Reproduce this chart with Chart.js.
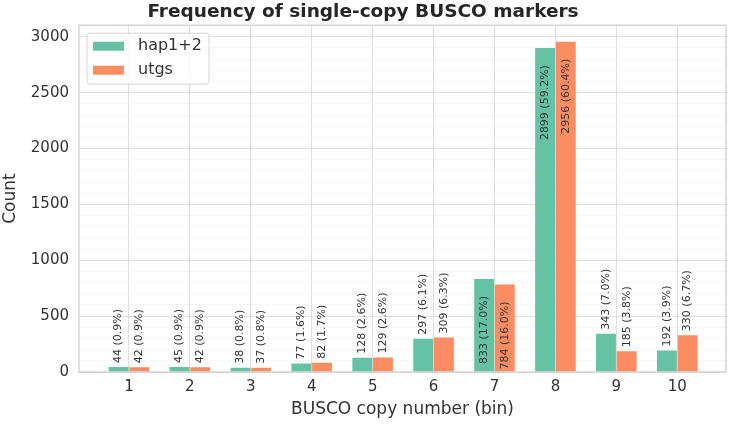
<!DOCTYPE html>
<html>
<head>
<meta charset="utf-8">
<script src="https://cdn.jsdelivr.net/npm/chart.js@4.4.0/dist/chart.umd.min.js"></script>
<style>
  html, body { margin: 0; padding: 0; background: #fff; }
  #wrap { width: 733px; height: 427px; }
</style>
</head>
<body>
<div id="wrap"><canvas id="busco-chart" width="733" height="427"></canvas></div>
<script>
const copyBins = [1, 2, 3, 4, 5, 6, 7, 8, 9, 10];
const hapCounts = [44, 45, 38, 77, 128, 297, 833, 2899, 343, 192];
const utgCounts = [42, 42, 37, 82, 129, 309, 784, 2956, 185, 330];
const seriesNames = ['hap1+2', 'utgs'];
const yTickLabels = [0, 500, 1000, 1500, 2000, 2500, 3000];

const GREEN = '#66c2a5';
const ORANGE = '#fc8d62';
const TEXT = '#333333';
const FONT = "'DejaVu Sans', sans-serif";

const toPoints = vals => vals.map((v, i) => ({ x: copyBins[i], y: v }));

// rotated value labels, above short bars, inside tall ones
const barLabels = {
  id: 'barLabels',
  afterDatasetsDraw(chart) {
    const ctx = chart.ctx;
    const yMax = chart.scales.y.max;
    ctx.save();
    ctx.font = `11px ${FONT}`;
    ctx.fillStyle = TEXT;
    ctx.textBaseline = 'middle';
    chart.data.datasets.forEach((ds, di) => {
      const meta = chart.getDatasetMeta(di);
      const total = ds.data.reduce((a, p) => a + p.y, 0);
      meta.data.forEach((bar, i) => {
        const v = ds.data[i].y;
        const txt = `${v} (${(v / total * 100).toFixed(1)}%)`;
        const inside = v > yMax * 0.2;
        ctx.save();
        ctx.translate(bar.x, inside ? bar.y + 17 : bar.y - 4);
        ctx.rotate(-Math.PI / 2);
        ctx.textAlign = inside ? 'right' : 'left';
        ctx.fillText(txt, 0, 0);
        ctx.restore();
      });
    });
    ctx.restore();
  }
};

// plot frame and legend box in the upper left corner
const frameLegend = {
  id: 'frameLegend',
  afterDraw(chart) {
    const ctx = chart.ctx;
    const a = chart.chartArea;
    ctx.save();
    ctx.strokeStyle = '#cccccc';
    ctx.lineWidth = 1.2;
    ctx.strokeRect(a.left, a.top, a.right - a.left, a.bottom - a.top);

    const x = a.left + 8, y = a.top + 8, w = 122, h = 51;
    ctx.beginPath();
    ctx.roundRect(x, y, w, h, 3);
    ctx.fillStyle = 'rgba(255,255,255,0.85)';
    ctx.fill();
    ctx.strokeStyle = '#d6d6d6';
    ctx.lineWidth = 1;
    ctx.stroke();

    ctx.font = `16px ${FONT}`;
    ctx.textBaseline = 'middle';
    ctx.textAlign = 'left';
    chart.data.datasets.forEach((ds, i) => {
      const cy = y + 13 + i * 24;
      ctx.fillStyle = ds.backgroundColor;
      ctx.fillRect(x + 6, cy - 4.5, 31, 9);
      ctx.fillStyle = TEXT;
      ctx.fillText(ds.label, x + 51, cy);
    });
    ctx.restore();
  }
};

new Chart(document.getElementById('busco-chart'), {
  type: 'bar',
  data: {
    datasets: [
      { label: seriesNames[0], data: toPoints(hapCounts), backgroundColor: GREEN },
      { label: seriesNames[1], data: toPoints(utgCounts), backgroundColor: ORANGE }
    ]
  },
  options: {
    responsive: false,
    animation: false,
    layout: { padding: { left: 0, right: 7, top: 0, bottom: 0 } },
    datasets: { bar: { categoryPercentage: 0.68, barPercentage: 0.96 } },
    plugins: {
      legend: { display: false },
      tooltip: { enabled: false },
      title: {
        display: true,
        text: 'Frequency of single-copy BUSCO markers',
        color: '#262626',
        font: { family: FONT, size: 18.5, weight: 'bold' },
        padding: { top: 1, bottom: 2 }
      }
    },
    scales: {
      x: {
        type: 'linear',
        offset: false,
        min: 0.18,
        max: 10.8,
        afterBuildTicks: s => { s.ticks = copyBins.map(v => ({ value: v })); },
        afterFit: s => { s.height = 55; },
        ticks: { color: TEXT, font: { family: FONT, size: 15 }, padding: 6 },
        grid: { color: '#dedede', lineWidth: 1, drawTicks: false, offset: false },
        border: { display: false },
        title: {
          display: true,
          text: 'BUSCO copy number (bin)',
          color: TEXT,
          font: { family: FONT, size: 17 },
          padding: { top: 0, bottom: 7 }
        }
      },
      y: {
        min: 0,
        max: 3104,
        afterBuildTicks: s => {
          const t = [];
          for (let v = 0; v <= s.max; v += 100) t.push({ value: v });
          s.ticks = t;
        },
        afterFit: s => { s.width = 79; },
        ticks: {
          color: TEXT,
          font: { family: FONT, size: 15 },
          padding: 10,
          autoSkip: false,
          callback: v => yTickLabels.includes(v) ? String(v) : ''
        },
        grid: {
          drawTicks: false,
          color: c => yTickLabels.includes(c.tick.value) ? '#dedede' : '#ececec',
          lineWidth: c => yTickLabels.includes(c.tick.value) ? 1 : 0.8
        },
        border: {
          display: false,
          dash: c => yTickLabels.includes(c.tick && c.tick.value) ? [] : [2, 2]
        },
        title: {
          display: true,
          text: 'Count',
          color: TEXT,
          font: { family: FONT, size: 17 },
          padding: { top: 0, bottom: 4 }
        }
      }
    }
  },
  plugins: [barLabels, frameLegend]
});
</script>
</body>
</html>
